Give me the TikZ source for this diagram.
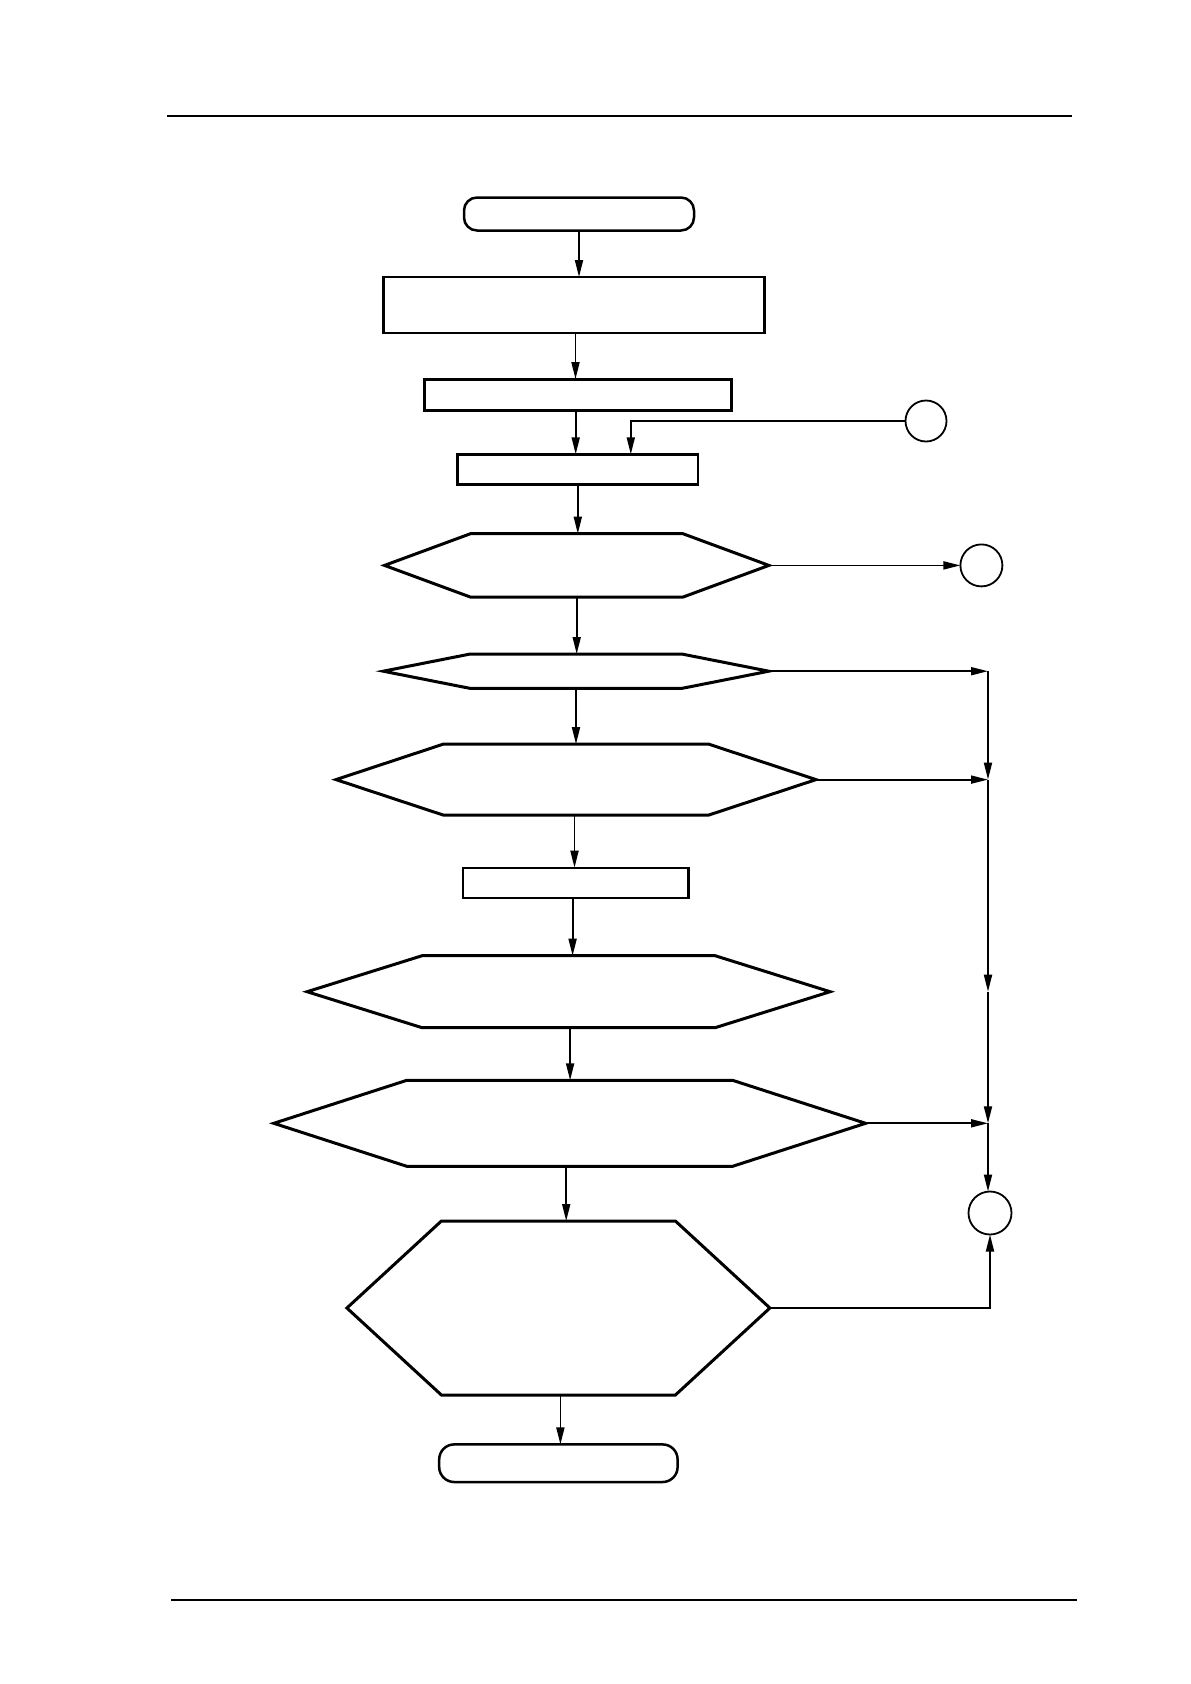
\documentclass[tikz,border=0pt]{standalone}
\usetikzlibrary{arrows.meta,calc}
\newcommand\hexpath[3][]{\draw[hexline,#1] (#2.west) -- ([xshift=#3]#2.north west) -- ([xshift=-#3]#2.north east) -- (#2.east) -- ([xshift=-#3]#2.south east) -- ([xshift=#3]#2.south west) -- cycle;}
\begin{document}
\begin{tikzpicture}[x=1pt,y=-1pt,
 arr/.style={line width=1.8pt,-{Triangle[length=17pt,width=8pt]}},
 boxn/.style={draw,rectangle,inner sep=0pt,outer sep=0pt,line width=2.4pt},
 termn/.style={draw,rectangle,rounded corners=13pt,inner sep=0pt,outer sep=0pt,line width=2.5pt},
 hexn/.style={rectangle,inner sep=0pt,outer sep=0pt},
 hexline/.style={line width=3pt,line join=miter},
 circn/.style={draw,circle,inner sep=0pt,outer sep=0pt,line width=1.8pt,minimum size=42pt},
 pagerule/.style={line width=1.4pt}]
\useasboundingbox (0,0) rectangle (1191,1684);
\fill[white] (0,0) rectangle (1191,1684);
% page rules
\coordinate (t1) at (166.5,116); \coordinate (t2) at (1072,116);
\coordinate (u1) at (171,1600); \coordinate (u2) at (1077,1600);
\draw[pagerule] (t1) -- (t2);
\draw[pagerule] (u1) -- (u2);
% nodes
\node[termn,minimum width=230pt,minimum height=33pt] (start) at (579,214) {};
\node[boxn,minimum width=381pt,minimum height=56pt] (b1) at (574,305) {};
\node[boxn,line width=3.1pt,minimum width=307pt,minimum height=31pt] (b2) at (577.7,394.6) {};
\node[boxn,minimum width=240.5pt,minimum height=30pt] (b3) at (577.8,469.3) {};
\node[circn,minimum size=41pt] (A) at (926,421) {};
\node[hexn,minimum width=384.4pt,minimum height=63.4pt] (h1) at (576.7,565.4) {};
\node[circn] (B) at (981.4,565.4) {};
\node[hexn,minimum width=385.5pt,minimum height=34.4pt] (h2) at (576,671.2) {};
\node[hexn,minimum width=480pt,minimum height=71pt] (h3) at (576,779.6) {};
\node[boxn,minimum width=225.5pt,minimum height=30pt] (b4) at (575.6,882.7) {};
\node[hexn,minimum width=523pt,minimum height=72pt] (h4) at (568.6,991.7) {};
\node[hexn,minimum width=591.8pt,minimum height=86pt] (h5) at (569.7,1123.3) {};
\node[hexn,minimum width=423pt,minimum height=174pt] (h6) at (558.4,1308) {};
\node[termn,rounded corners=15pt,minimum width=238.4pt,minimum height=37.6pt] (end) at (558.4,1463.2) {};
\node[circn,minimum size=43pt] (C) at (990,1213) {};
% hexagon outlines
\hexpath{h1}{86pt}
\hexpath{h2}{87pt}
\hexpath{h3}{107.4pt}
\hexpath{h4}{115pt}
\hexpath{h5}{133pt}
\hexpath{h6}{94.5pt}
% main flow
\draw[arr] (start.south) -- (start.south |- b1.north);
\draw[arr] ([xshift=1.5pt]b1.south) -- ([xshift=1.5pt]b1.south |- b2.north);
\draw[arr] ([xshift=-2pt]b2.south) -- ([xshift=-2pt]b2.south |- b3.north);
\draw[arr] (b3.south) -- (b3.south |- h1.north);
\draw[arr] (h1.south) -- (h1.south |- h2.north);
\draw[arr] (h2.south) -- (h2.south |- h3.north);
\draw[arr] ([xshift=-1.5pt]h3.south) -- ([xshift=-1.5pt]h3.south |- b4.north);
\draw[arr] ([xshift=-3pt]b4.south) -- ([xshift=-3pt]b4.south |- h4.north);
\draw[arr] ([xshift=1.5pt]h4.south) -- ([xshift=1.5pt]h4.south |- h5.north);
\draw[arr] ([xshift=-3.5pt]h5.south) -- ([xshift=-3.5pt]h5.south |- h6.north);
\draw[arr] ([xshift=2pt]h6.south) -- ([xshift=2pt]h6.south |- end.north);
% side connectors
\draw[arr] (A.west) -| ([xshift=53pt]b3.north);
\draw[arr] (h1.east) -- (B.west);
\coordinate (v2) at ([xshift=-2pt]C.north |- h2.east);
\coordinate (v3) at ([xshift=-2pt]C.north |- h3.east);
\coordinate (v4) at ([xshift=-2pt]C.north |- h4.east);
\coordinate (v5) at ([xshift=-2pt]C.north |- h5.east);
\draw[arr] (h2.east) -- (v2);
\draw[arr] (h3.east) -- (v3);
\draw[arr] (h5.east) -- (v5);
\draw[arr] (v2) -- (v3);
\draw[arr] (v3) -- (v4);
\draw[arr] (v4) -- (v5);
\draw[arr] (v5) -- ([xshift=-2pt]C.north);
\draw[arr] (h6.east) -| (C.south);
\end{tikzpicture}
\end{document}
